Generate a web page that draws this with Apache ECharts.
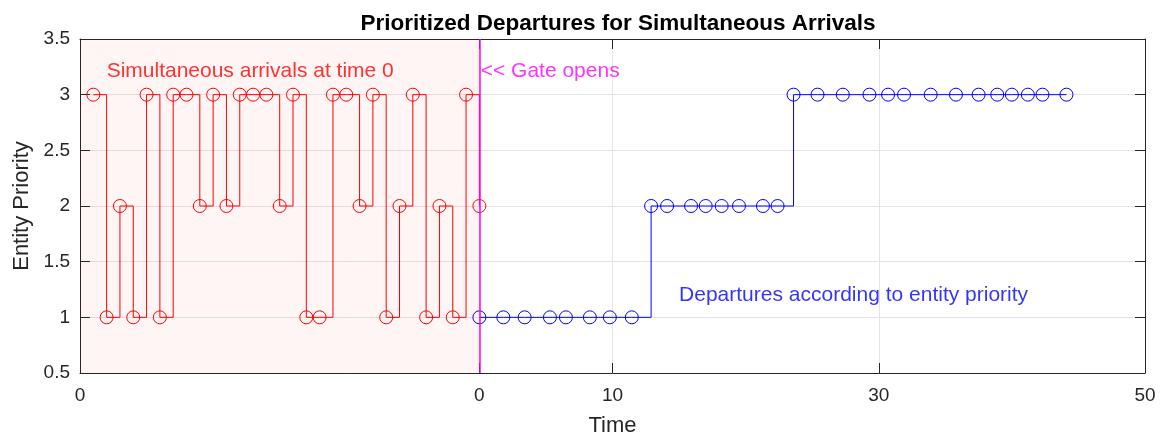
<!DOCTYPE html>
<html>
<head>
<meta charset="utf-8">
<script src="https://cdn.jsdelivr.net/npm/echarts@6/dist/echarts.min.js"></script>
<style>html,body{margin:0;padding:0;background:#fff}#c{width:1162px;height:438px}</style>
</head>
<body>
<div id="c"></div>
<script>
// ---- data ----
const arrivalTimes = [-29,-28,-27,-26,-25,-24,-23,-22,-21,-20,-19,-18,-17,-16,-15,-14,-13,-12,-11,-10,-9,-8,-7,-6,-5,-4,-3,-2,-1,0];
const arrivalPriority = [3,1,2,1,3,1,3,3,2,3,2,3,3,3,2,3,1,1,3,3,2,3,1,2,3,1,2,1,3,2];
const departureTimes = [0,1.8,3.4,5.3,6.5,8.3,9.8,11.45, 12.9,14.1,15.9,17.0,18.2,19.5,21.3,22.4, 23.6,25.4,27.3,29.3,30.7,31.9,33.9,35.8,37.5,38.9,40.0,41.2,42.3,44.1];
const departurePriority = [1,1,1,1,1,1,1,1, 2,2,2,2,2,2,2,2, 3,3,3,3,3,3,3,3,3,3,3,3,3,3];
const xTickValues = [-30, 0, 10, 30, 50];
const xTickLabels = ['0', '0', '10', '30', '50'];
const gateTime = 0;
const arrivalWindow = [-30, 0];
const annotationTexts = ['Simultaneous arrivals at time 0', '<< Gate opens', 'Departures according to entity priority'];
const annotationX = [-28, 0.1, 15];
const annotationY = [3.21, 3.21, 1.2];
const annotationColors = ['#FF0000', '#FF00FF', '#0000FF'];

// ---- chart ----
const FONT = "'Liberation Sans', Arial, Helvetica, sans-serif";
const AX = '#262626';
const chart = echarts.init(document.getElementById('c'), null, {renderer: 'canvas'});
const pairs = (xs, ys) => xs.map((x, i) => [x, ys[i]]);
const labelFor = v => { const i = xTickValues.indexOf(v); return i >= 0 ? xTickLabels[i] : ''; };

chart.setOption({
  animation: false,
  backgroundColor: '#ffffff',
  title: {
    text: 'Prioritized Departures for Simultaneous Arrivals',
    left: 613, top: 7, textAlign: 'center',
    textStyle: {fontFamily: FONT, fontWeight: 'bold', fontSize: 22.5, color: '#000'}
  },
  grid: {left: 80, right: 17, top: 39, bottom: 65, containLabel: false, outerBoundsMode: 'none'},
  xAxis: [{
    type: 'value', min: -30, max: 50,
    name: 'Time', nameLocation: 'middle', nameGap: 42,
    nameTextStyle: {fontFamily: FONT, fontSize: 22, color: AX},
    axisLine: {show: true, onZero: false, lineStyle: {color: AX, width: 1}},
    axisTick: {show: true, inside: true, length: 10, customValues: xTickValues, lineStyle: {color: AX}},
    axisLabel: {show: true, customValues: xTickValues, formatter: labelFor, margin: 13,
      fontFamily: FONT, fontSize: 19, color: AX},
    splitLine: {show: true, lineStyle: {color: '#E3E3E3', width: 1}}
  }, {
    type: 'value', min: -30, max: 50, position: 'top',
    axisLine: {show: true, onZero: false, lineStyle: {color: AX, width: 1}},
    axisTick: {show: true, inside: true, length: 10, customValues: xTickValues, lineStyle: {color: AX}},
    axisLabel: {show: false}, splitLine: {show: false}
  }],
  yAxis: [{
    type: 'value', min: 0.5, max: 3.5, interval: 0.5,
    name: 'Entity Priority', nameLocation: 'middle', nameGap: 46, nameRotate: 90,
    nameTextStyle: {fontFamily: FONT, fontSize: 22, color: AX},
    axisLine: {show: true, onZero: false, lineStyle: {color: AX, width: 1}},
    axisTick: {show: true, inside: true, length: 10, lineStyle: {color: AX}},
    axisLabel: {fontFamily: FONT, fontSize: 19, color: AX, margin: 10},
    splitLine: {show: true, lineStyle: {color: '#E3E3E3', width: 1}}
  }, {
    type: 'value', min: 0.5, max: 3.5, interval: 0.5, position: 'right',
    axisLine: {show: true, onZero: false, lineStyle: {color: AX, width: 1}},
    axisTick: {show: true, inside: true, length: 10, lineStyle: {color: AX}},
    axisLabel: {show: false}, splitLine: {show: false}
  }],
  series: [{
    name: 'Arrivals', type: 'line', step: 'end',
    data: pairs(arrivalTimes, arrivalPriority),
    symbol: 'circle', symbolSize: 13, showAllSymbol: true,
    lineStyle: {color: '#FF0000', width: 1},
    itemStyle: {color: 'rgba(0,0,0,0)', borderColor: '#FF0000', borderWidth: 1},
    z: 3,
    markArea: {
      silent: true,
      itemStyle: {color: 'rgba(255,0,0,0.04)'},
      data: [[{xAxis: arrivalWindow[0]}, {xAxis: arrivalWindow[1]}]]
    }
  }, {
    name: 'Departures', type: 'line', step: 'end',
    data: pairs(departureTimes, departurePriority),
    symbol: 'circle', symbolSize: 13, showAllSymbol: true,
    lineStyle: {color: '#0000FF', width: 1},
    itemStyle: {color: 'rgba(0,0,0,0)', borderColor: '#0000FF', borderWidth: 1},
    z: 3
  }, {
    name: 'Gate', type: 'line', data: [],
    markLine: {
      silent: true, symbol: ['none', 'none'],
      lineStyle: {color: '#FF00FF', width: 1.5, type: 'solid'},
      label: {show: false},
      data: [{xAxis: gateTime}]
    },
    z: 4
  }, {
    name: 'Annotations', type: 'scatter', symbolSize: 0, silent: true,
    data: annotationTexts.map((t, i) => ({
      value: [annotationX[i], annotationY[i]], name: t,
      label: {color: annotationColors[i]}
    })),
    label: {show: true, position: 'right', distance: 0, formatter: p => p.name,
      fontFamily: FONT, fontSize: 21},
    z: 5
  }]
});
</script>
</body>
</html>
